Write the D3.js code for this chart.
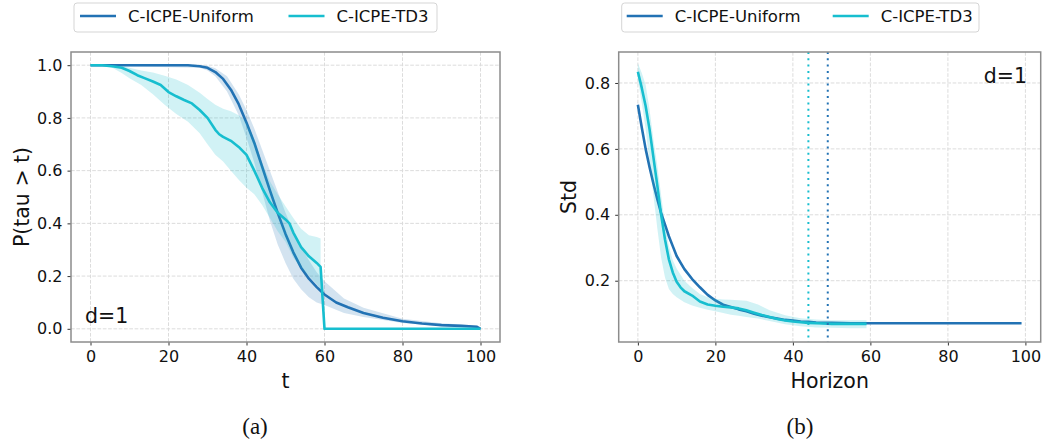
<!DOCTYPE html>
<html>
<head>
<meta charset="utf-8">
<script src="https://cdn.jsdelivr.net/npm/d3@7"></script>
<style>
  html, body { margin: 0; padding: 0; background: #fff; }
  svg { display: block; }
  text { font-family: "DejaVu Sans", sans-serif; fill: #111; }
</style>
</head>
<body>
<svg id="chart" width="1051" height="443"></svg>
<script>
// ---------------- DATA ----------------
const seriesNames = ["C-ICPE-Uniform", "C-ICPE-TD3"];
const seriesColors = ["#2272b4", "#17becf"];

// (a) survival P(tau > t)
const tUniform = [0, 25, 28, 30, 32, 34, 36, 38, 40, 42, 44, 46, 48, 50, 52, 54, 56, 58, 60, 63, 66, 70, 75, 80, 85, 90, 95, 99, 100];
const pUniform = [1, 1, 0.996, 0.99, 0.974, 0.948, 0.907, 0.852, 0.782, 0.705, 0.615, 0.525, 0.44, 0.36, 0.29, 0.232, 0.19, 0.158, 0.13, 0.1, 0.082, 0.06, 0.042, 0.029, 0.02, 0.014, 0.011, 0.008, 0.0];
const tUniformBand = [0, 28, 30, 32, 35, 38, 40, 42, 44, 46, 48, 50, 52, 54, 56, 58, 60, 65, 70, 80, 90, 99, 100];
const pUniformLo = [0.998, 0.99, 0.98, 0.958, 0.9, 0.81, 0.725, 0.63, 0.52, 0.41, 0.32, 0.25, 0.19, 0.15, 0.12, 0.1, 0.09, 0.06, 0.045, 0.022, 0.01, 0.005, 0.0];
const pUniformHi = [1, 1, 0.998, 0.988, 0.958, 0.89, 0.83, 0.76, 0.68, 0.6, 0.52, 0.44, 0.37, 0.31, 0.26, 0.215, 0.18, 0.115, 0.08, 0.038, 0.021, 0.013, 0.0];

const tTD3 = [0, 3, 6, 8, 10, 12, 14, 16, 18, 20, 22, 24, 26, 28, 30, 32, 33, 34, 36, 38, 40, 42, 44, 46, 48, 50, 51, 52, 54, 56, 58, 59, 60, 100];
const pTD3 = [1, 1, 0.995, 0.99, 0.978, 0.962, 0.95, 0.938, 0.925, 0.898, 0.882, 0.868, 0.855, 0.83, 0.8, 0.755, 0.738, 0.728, 0.713, 0.69, 0.66, 0.6, 0.535, 0.48, 0.44, 0.415, 0.4, 0.365, 0.31, 0.275, 0.25, 0.235, 0, 0];
const tTD3Band = [0, 5, 8, 10, 13, 16, 19, 22, 25, 28, 30, 32, 34, 36, 38, 40, 42, 44, 46, 48, 50, 52, 54, 56, 58, 59];
const pTD3Lo = [1, 0.995, 0.97, 0.95, 0.925, 0.89, 0.85, 0.815, 0.785, 0.742, 0.7, 0.66, 0.635, 0.6, 0.565, 0.535, 0.51, 0.47, 0.42, 0.37, 0.33, 0.27, 0.23, 0.2, 0.17, 0.15];
const pTD3Hi = [1, 1, 0.997, 0.99, 0.98, 0.972, 0.96, 0.946, 0.925, 0.895, 0.872, 0.85, 0.835, 0.825, 0.81, 0.785, 0.72, 0.63, 0.56, 0.51, 0.465, 0.42, 0.38, 0.355, 0.348, 0.343];

// (b) Std vs horizon
const hUniform = [0, 1, 2, 3, 4, 5, 6, 7, 8, 9, 10, 11, 12, 14, 16, 18, 20, 22, 24, 26, 28, 30, 32, 34, 36, 38, 40, 42, 44, 46, 48, 50, 55, 60, 70, 80, 90, 99];
const sUniform = [0.734, 0.665, 0.6, 0.545, 0.495, 0.448, 0.405, 0.37, 0.335, 0.305, 0.275, 0.255, 0.235, 0.205, 0.18, 0.157, 0.14, 0.127, 0.12, 0.113, 0.107, 0.1, 0.094, 0.089, 0.085, 0.081, 0.079, 0.076, 0.075, 0.073, 0.072, 0.072, 0.071, 0.071, 0.071, 0.071, 0.071, 0.071];
const sUniformLo = [0.724, 0.655, 0.59, 0.535, 0.486, 0.44, 0.398, 0.363, 0.329, 0.3, 0.27, 0.25, 0.231, 0.201, 0.177, 0.154, 0.137, 0.124, 0.117, 0.11, 0.104, 0.097, 0.091, 0.087, 0.083, 0.079, 0.077, 0.074, 0.073, 0.071, 0.07, 0.07, 0.069, 0.069, 0.069, 0.069, 0.069, 0.069];
const sUniformHi = [0.744, 0.675, 0.61, 0.555, 0.504, 0.456, 0.412, 0.377, 0.341, 0.31, 0.28, 0.26, 0.239, 0.209, 0.183, 0.16, 0.143, 0.13, 0.123, 0.116, 0.11, 0.103, 0.097, 0.091, 0.087, 0.083, 0.081, 0.078, 0.077, 0.075, 0.074, 0.074, 0.073, 0.073, 0.073, 0.073, 0.073, 0.073];

const hTD3 = [0, 1, 2, 3, 4, 5, 6, 7, 8, 9, 10, 11, 12, 14, 16, 18, 20, 22, 24, 26, 28, 30, 32, 34, 36, 38, 40, 42, 44, 46, 48, 50, 55, 59];
const sTD3 = [0.834, 0.785, 0.73, 0.66, 0.575, 0.49, 0.4, 0.325, 0.265, 0.225, 0.197, 0.18, 0.168, 0.155, 0.137, 0.128, 0.124, 0.121, 0.119, 0.116, 0.11, 0.103, 0.096, 0.09, 0.084, 0.079, 0.076, 0.074, 0.072, 0.071, 0.07, 0.069, 0.069, 0.069];
const hTD3Band = [0, 1, 2, 3, 4, 5, 6, 7, 8, 9, 10, 12, 14, 16, 18, 20, 22, 24, 26, 28, 31, 34, 38, 42, 46, 50, 55, 59];
const sTD3Lo = [0.81, 0.74, 0.66, 0.56, 0.46, 0.36, 0.27, 0.21, 0.175, 0.16, 0.15, 0.135, 0.125, 0.118, 0.112, 0.107, 0.102, 0.097, 0.094, 0.09, 0.085, 0.078, 0.068, 0.062, 0.058, 0.057, 0.056, 0.056];
const sTD3Hi = [0.86, 0.83, 0.795, 0.72, 0.63, 0.55, 0.46, 0.37, 0.305, 0.262, 0.237, 0.2, 0.178, 0.16, 0.15, 0.145, 0.143, 0.142, 0.141, 0.139, 0.128, 0.11, 0.095, 0.086, 0.082, 0.08, 0.08, 0.08];

const horizonMarks = [49, 44]; // dotted vertical lines: Uniform, TD3

const xTicks = [0, 20, 40, 60, 80, 100];
const yTicksA = [0, 0.2, 0.4, 0.6, 0.8, 1.0];
const yTicksB = [0.2, 0.4, 0.6, 0.8];

// ---------------- DRAW ----------------
const svg = d3.select("#chart");

function zip(xs, ys) { return xs.map((x, i) => [x, ys[i]]); }
function zipBand(xs, lo, hi) { return xs.map((x, i) => [x, lo[i], hi[i]]); }

function panel(cfg) {
  const x = d3.scaleLinear().domain(cfg.xDomain).range([cfg.left, cfg.right]);
  const y = d3.scaleLinear().domain(cfg.yDomain).range([cfg.bottom, cfg.top]);
  const g = svg.append("g");

  // grid
  const grid = g.append("g");
  cfg.xTicks.forEach(v => {
    grid.append("line").attr("x1", x(v)).attr("x2", x(v)).attr("y1", cfg.top).attr("y2", cfg.bottom)
      .attr("stroke", "#dcdcdc").attr("stroke-width", 1).attr("stroke-dasharray", "3.7,1.6");
  });
  cfg.yTicks.forEach(v => {
    grid.append("line").attr("y1", y(v)).attr("y2", y(v)).attr("x1", cfg.left).attr("x2", cfg.right)
      .attr("stroke", "#dcdcdc").attr("stroke-width", 1).attr("stroke-dasharray", "3.7,1.6");
  });

  const clipId = "clip" + cfg.id;
  svg.append("clipPath").attr("id", clipId).append("rect")
    .attr("x", cfg.left).attr("y", cfg.top).attr("width", cfg.right - cfg.left).attr("height", cfg.bottom - cfg.top);
  const plot = g.append("g").attr("clip-path", `url(#${clipId})`);

  const area = d3.area().x(d => x(d[0])).y0(d => y(d[1])).y1(d => y(d[2]));
  const line = d3.line().x(d => x(d[0])).y(d => y(d[1]));

  cfg.series.forEach((s, i) => {
    plot.append("path").datum(s.band).attr("d", area)
      .attr("fill", seriesColors[i]).attr("fill-opacity", 0.2).attr("stroke", "none");
    plot.append("path").datum(s.line).attr("d", line)
      .attr("fill", "none").attr("stroke", seriesColors[i]).attr("stroke-width", 2.6)
      .attr("stroke-linejoin", "round");
  });

  if (cfg.vlines) {
    cfg.vlines.forEach((v, i) => {
      plot.append("line").attr("x1", x(v)).attr("x2", x(v)).attr("y1", cfg.top).attr("y2", cfg.bottom)
        .attr("stroke", seriesColors[i]).attr("stroke-width", 2).attr("stroke-dasharray", "2,4.3");
    });
  }

  // axes
  const xAxis = d3.axisBottom(x).tickValues(cfg.xTicks).tickSize(3.5).tickPadding(5).tickFormat(d3.format("d"));
  const yAxis = d3.axisLeft(y).tickValues(cfg.yTicks).tickSize(3.5).tickPadding(5).tickFormat(d3.format(".1f"));
  const gx = g.append("g").attr("transform", `translate(0,${cfg.bottom})`).call(xAxis);
  const gy = g.append("g").attr("transform", `translate(${cfg.left},0)`).call(yAxis);
  [gx, gy].forEach(a => {
    a.select(".domain").remove();
    a.selectAll(".tick line").attr("stroke", "#333").attr("stroke-width", 1);
    a.selectAll(".tick text").attr("font-size", "16px").attr("fill", "#111")
      .style("font-family", "DejaVu Sans, sans-serif");
  });

  // frame
  g.append("rect").attr("x", cfg.left).attr("y", cfg.top)
    .attr("width", cfg.right - cfg.left).attr("height", cfg.bottom - cfg.top)
    .attr("fill", "none").attr("stroke", "#8c8c8c").attr("stroke-width", 1.5);

  // labels
  g.append("text").attr("x", (cfg.left + cfg.right) / 2).attr("y", 388)
    .attr("text-anchor", "middle").attr("font-size", "20.5px").text(cfg.xLabel);
  g.append("text").attr("transform", `translate(${cfg.yLabelX},${(cfg.top + cfg.bottom) / 2}) rotate(-90)`)
    .attr("text-anchor", "middle").attr("font-size", "20.5px").text(cfg.yLabel);
  g.append("text").attr("x", cfg.dX).attr("y", cfg.dY).attr("text-anchor", cfg.dAnchor)
    .attr("font-size", "20.5px").text("d=1");
  g.append("text").attr("x", cfg.capX).attr("y", 434).attr("text-anchor", "middle")
    .style("font-family", "Liberation Serif, Times New Roman, serif").attr("font-size", "23px").text(cfg.caption);

  // legend
  const lg = svg.append("g");
  lg.append("rect").attr("x", cfg.legX).attr("y", 3).attr("width", cfg.legW).attr("height", 29).attr("rx", 3)
    .attr("fill", "#fff").attr("stroke", "#d5d5d5").attr("stroke-width", 1);
  seriesNames.forEach((n, i) => {
    const lx = cfg.legItems[i];
    lg.append("line").attr("x1", lx).attr("x2", lx + 36).attr("y1", 16).attr("y2", 16)
      .attr("stroke", seriesColors[i]).attr("stroke-width", 2.6);
    lg.append("text").attr("x", lx + 48).attr("y", 22.3).attr("font-size", "16.5px").text(n);
  });
}

panel({
  id: "a", left: 71, right: 500, top: 52, bottom: 342,
  xDomain: [-5, 105], yDomain: [-0.05, 1.05],
  xTicks: xTicks, yTicks: yTicksA,
  series: [
    { line: zip(tUniform, pUniform), band: zipBand(tUniformBand, pUniformLo, pUniformHi) },
    { line: zip(tTD3, pTD3), band: zipBand(tTD3Band, pTD3Lo, pTD3Hi) }
  ],
  xLabel: "t", yLabel: "P(tau > t)", yLabelX: 28.5,
  dX: 85, dY: 322.7, dAnchor: "start",
  caption: "(a)", capX: 255,
  legX: 74, legW: 363, legItems: [80, 288.5]
});

panel({
  id: "b", left: 618.7, right: 1040.7, top: 52, bottom: 342,
  xDomain: [-4.95, 103.95], yDomain: [0.014, 0.894],
  xTicks: xTicks, yTicks: yTicksB,
  series: [
    { line: zip(hUniform, sUniform), band: zipBand(hUniform, sUniformLo, sUniformHi) },
    { line: zip(hTD3, sTD3), band: zipBand(hTD3Band, sTD3Lo, sTD3Hi) }
  ],
  vlines: horizonMarks,
  xLabel: "Horizon", yLabel: "Std", yLabelX: 576,
  dX: 1027, dY: 83.3, dAnchor: "end",
  caption: "(b)", capX: 800,
  legX: 621.7, legW: 357.3, legItems: [626.7, 832.7]
});
</script>
</body>
</html>
